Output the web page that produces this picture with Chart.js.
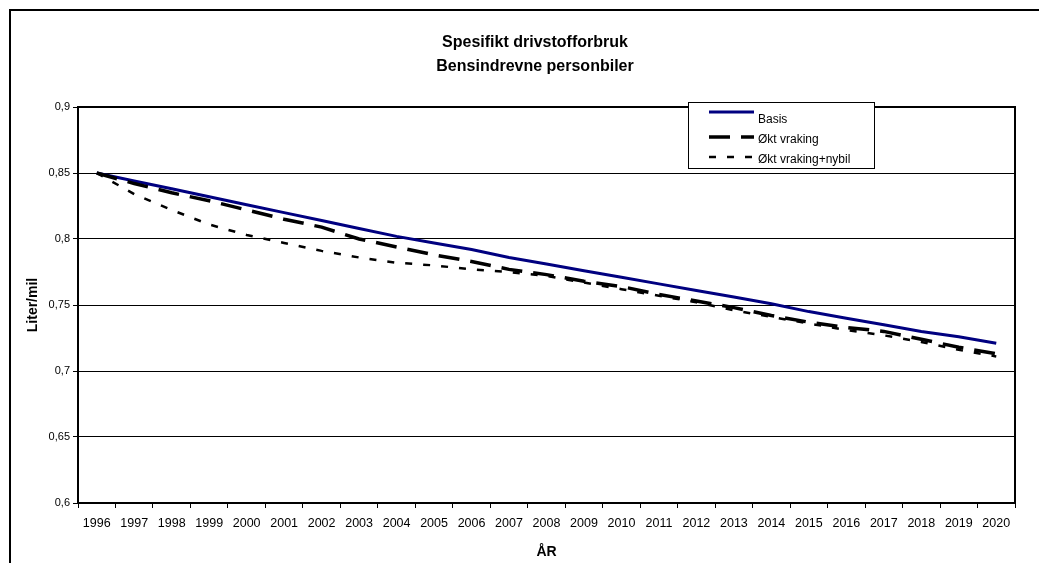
<!DOCTYPE html>
<html>
<head>
<meta charset="utf-8">
<script src="https://cdn.jsdelivr.net/npm/chart.js@4.4.1/dist/chart.umd.min.js"></script>
<style>
  html, body { margin: 0; padding: 0; background: #ffffff; }
  #wrap { width: 1039px; height: 563px; position: relative; }
  canvas { display: block; }
</style>
</head>
<body>
<div id="wrap"><canvas id="c" width="1039" height="563"></canvas></div>
<script>
// Categories (years) and series
const years = ['1996','1997','1998','1999','2000','2001','2002','2003','2004','2005','2006','2007','2008',
               '2009','2010','2011','2012','2013','2014','2015','2016','2017','2018','2019','2020'];

const basis = [0.850, 0.844, 0.838, 0.832, 0.826, 0.820, 0.814, 0.808, 0.802, 0.797, 0.792, 0.786, 0.781,
               0.776, 0.771, 0.766, 0.761, 0.756, 0.751, 0.745, 0.740, 0.735, 0.730, 0.726, 0.721];

const oktVraking = [0.850, 0.842, 0.835, 0.829, 0.822, 0.815, 0.809, 0.800, 0.794, 0.788, 0.783, 0.777, 0.773,
                    0.768, 0.764, 0.758, 0.753, 0.748, 0.742, 0.737, 0.733, 0.730, 0.724, 0.718, 0.713];

const oktVrakingNybil = [0.850, 0.834, 0.822, 0.811, 0.803, 0.797, 0.791, 0.786, 0.782, 0.780, 0.777, 0.775, 0.772,
                         0.767, 0.762, 0.757, 0.752, 0.746, 0.741, 0.736, 0.731, 0.727, 0.722, 0.716, 0.711];

const seriesNames = ['Basis', 'Økt vraking', 'Økt vraking+nybil'];

// Value axis ticks
const yTickValues = [0.6, 0.65, 0.7, 0.75, 0.8, 0.85, 0.9];
const yTickLabels = ['0,6', '0,65', '0,7', '0,75', '0,8', '0,85', '0,9'];

const titleLines = ['Spesifikt drivstofforbruk', 'Bensindrevne personbiler'];
const yAxisTitle = 'Liter/mil';
const xAxisTitle = 'ÅR';

const FONT = "'Liberation Sans', Arial, Helvetica, sans-serif";

// Frame, titles, plot border and the boxed legend
const decorations = {
  id: 'decorations',
  beforeDraw(chart) {
    const ctx = chart.ctx;
    ctx.save();
    ctx.fillStyle = '#ffffff';
    ctx.fillRect(0, 0, chart.width, chart.height);
    // outer chart frame
    ctx.strokeStyle = '#000000';
    ctx.lineWidth = 2;
    ctx.beginPath();
    ctx.moveTo(10, chart.height + 2);
    ctx.lineTo(10, 10);
    ctx.lineTo(chart.width + 2, 10);
    ctx.stroke();
    // titles
    ctx.fillStyle = '#000000';
    ctx.textAlign = 'center';
    ctx.textBaseline = 'middle';
    ctx.font = 'bold 16px ' + FONT;
    ctx.fillText(titleLines[0], 535, 43);
    ctx.fillText(titleLines[1], 535, 67);
    // axis titles
    const a = chart.chartArea;
    ctx.font = 'bold 14px ' + FONT;
    ctx.fillText(xAxisTitle, (a.left + a.right) / 2, 552);
    ctx.save();
    ctx.translate(33, (a.top + a.bottom) / 2);
    ctx.rotate(-Math.PI / 2);
    ctx.fillText(yAxisTitle, 0, 0);
    ctx.restore();
    ctx.restore();
  },
  afterDraw(chart) {
    const ctx = chart.ctx;
    const a = chart.chartArea;
    ctx.save();
    // plot area top and right edges
    ctx.strokeStyle = '#000000';
    ctx.lineWidth = 2;
    ctx.beginPath();
    ctx.moveTo(a.left, a.top);
    ctx.lineTo(a.right, a.top);
    ctx.lineTo(a.right, a.bottom);
    ctx.stroke();

    // legend box
    const bx = 688, by = 102, bw = 186, bh = 66;
    ctx.fillStyle = '#ffffff';
    ctx.fillRect(bx, by, bw, bh);
    ctx.lineWidth = 1;
    ctx.strokeRect(bx + 0.5, by + 0.5, bw, bh);
    const sampleY = [112, 137, 157];
    const labelY = [120, 140, 160];
    ctx.font = '12px ' + FONT;
    ctx.textAlign = 'left';
    ctx.textBaseline = 'middle';
    chart.data.datasets.forEach((ds, i) => {
      ctx.beginPath();
      ctx.strokeStyle = ds.borderColor;
      ctx.lineWidth = ds.borderWidth;
      ctx.setLineDash(ds.borderDash || []);
      ctx.moveTo(709, sampleY[i]);
      ctx.lineTo(754, sampleY[i]);
      ctx.stroke();
      ctx.setLineDash([]);
      ctx.fillStyle = '#000000';
      ctx.fillText(ds.label, 758, labelY[i]);
    });
    ctx.restore();
  }
};

new Chart(document.getElementById('c'), {
  type: 'line',
  data: {
    labels: years,
    datasets: [
      { label: seriesNames[0], data: basis, borderColor: '#000080', borderWidth: 3,
        pointRadius: 0, tension: 0, fill: false, order: 3 },
      { label: seriesNames[1], data: oktVraking, borderColor: '#000000', borderWidth: 3.5,
        borderDash: [21, 11], pointRadius: 0, tension: 0, fill: false, order: 2 },
      { label: seriesNames[2], data: oktVrakingNybil, borderColor: '#000000', borderWidth: 2.5,
        borderDash: [7, 11], pointRadius: 0, tension: 0, fill: false, order: 1 }
    ]
  },
  options: {
    responsive: false,
    animation: false,
    devicePixelRatio: 1,
    layout: { padding: { left: 0, top: 107, right: 24, bottom: 0 } },
    plugins: { legend: { display: false }, title: { display: false }, tooltip: { enabled: false } },
    scales: {
      x: {
        type: 'category',
        offset: true,
        grid: { display: true, offset: true, drawOnChartArea: false, drawTicks: true,
                tickLength: 5, color: '#000000', lineWidth: 1 },
        border: { display: true, color: '#000000', width: 2 },
        ticks: { color: '#000000', font: { family: FONT, size: 12.5 }, padding: 8,
                 maxRotation: 0, minRotation: 0, autoSkip: false },
        afterFit(scale) { scale.height = 60; }
      },
      y: {
        type: 'linear',
        min: 0.6,
        max: 0.9,
        afterBuildTicks(scale) { scale.ticks = yTickValues.map(v => ({ value: v })); },
        grid: { color: '#000000', lineWidth: 1, drawTicks: true, tickLength: 5 },
        border: { display: true, color: '#000000', width: 2 },
        ticks: { color: '#000000', font: { family: FONT, size: 11 }, padding: 3,
                 callback: (v, i) => yTickLabels[i] },
        afterFit(scale) { scale.width = 78; }
      }
    }
  },
  plugins: [decorations]
});
</script>
</body>
</html>
